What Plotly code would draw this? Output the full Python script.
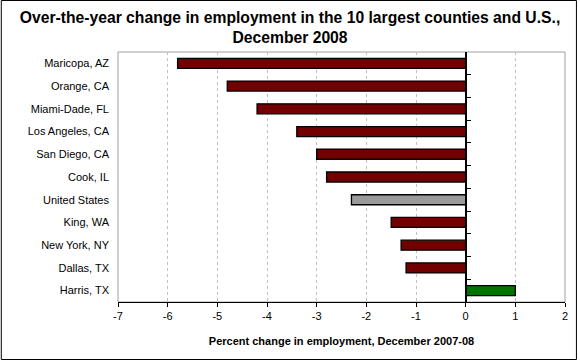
import plotly.graph_objects as go

counties = ["Maricopa, AZ", "Orange, CA", "Miami-Dade, FL", "Los Angeles, CA", "San Diego, CA",
            "Cook, IL", "United States", "King, WA", "New York, NY", "Dallas, TX", "Harris, TX"]
changes = [-5.8, -4.8, -4.2, -3.4, -3.0, -2.8, -2.3, -1.5, -1.3, -1.2, 1.0]
x_ticks = [-7, -6, -5, -4, -3, -2, -1, 0, 1, 2]

def bar_color(name, v):
    if name == "United States":
        return "#9a9a9a"
    return "#007400" if v > 0 else "#730000"

colors = [bar_color(n, v) for n, v in zip(counties, changes)]

W, H = 580, 360
L, R, T, B = 118, 12, 52, 58
pw, ph = W - L - R, H - T - B
xmin, xmax = x_ticks[0], x_ticks[-1]
zero_frac = (0 - xmin) / (xmax - xmin)

fig = go.Figure()
fig.add_trace(go.Bar(
    x=changes, y=counties, orientation="h",
    marker=dict(color=colors, line=dict(color="black", width=1.3)),
    hoverinfo="x+y", showlegend=False,
))
# invisible trace on secondary axis to carry the zero-line tick marks
fig.add_trace(go.Bar(
    x=[0] * len(counties), y=counties, orientation="h", yaxis="y2",
    marker=dict(color="rgba(0,0,0,0)"), hoverinfo="skip", showlegend=False,
))

fig.update_layout(
    width=W, height=H,
    margin=dict(l=L, r=R, t=T, b=B),
    paper_bgcolor="white", plot_bgcolor="white",
    bargap=0.56,
    font=dict(family="Liberation Sans, Arial, sans-serif", size=11, color="black"),
    title=dict(
        text="<b>Over-the-year change in employment in the 10 largest counties and U.S.,<br>December 2008</b>",
        x=0.5, xanchor="center", xref="container", yref="container",
        y=1 - 23 / H, yanchor="middle",
        font=dict(size=15.7, family="Liberation Sans, Arial, sans-serif"),
    ),
    xaxis=dict(
        range=[xmin, xmax], tickvals=x_ticks, ticktext=[str(t) for t in x_ticks],
        showgrid=True, gridcolor="#c0c0c0", griddash="3px,3px", gridwidth=1,
        zeroline=False, showline=True, linecolor="black", linewidth=1,
        ticks="outside", ticklen=4, tickcolor="black",
        title=dict(text="<b>Percent change in employment, December 2007-08</b>",
                   font=dict(size=11), standoff=16),
        fixedrange=True,
    ),
    yaxis=dict(
        categoryorder="array", categoryarray=counties, autorange="reversed",
        showgrid=False, zeroline=False, showline=False, ticks="",
        ticklabelstandoff=8, fixedrange=True,
    ),
    yaxis2=dict(
        overlaying="y", anchor="free", position=zero_frac, side="left",
        categoryorder="array", categoryarray=counties, autorange="reversed",
        showticklabels=False, showgrid=False, zeroline=False,
        showline=True, linecolor="black", linewidth=1.5,
        ticks="inside", tickson="boundaries", ticklen=5, tickcolor="black", tickwidth=1.3,
        fixedrange=True,
    ),
    shapes=[
        dict(type="rect", xref="x domain", yref="y domain", x0=0, x1=1, y0=0, y1=1,
             line=dict(color="#a0a0a0", width=1), layer="below"),
        dict(type="rect", xref="paper", yref="paper",
             x0=-(L - 0.5) / pw, x1=1 + (R - 0.5) / pw,
             y0=-(B - 0.5) / ph, y1=1 + (T - 0.5) / ph,
             line=dict(color="black", width=1), layer="above"),
    ],
)

fig.write_html(
    "out.html",
    config={"displayModeBar": False},
    post_script="document.body.style.margin='0';document.body.style.overflow='hidden';"
                "document.documentElement.style.overflow='hidden';",
)
